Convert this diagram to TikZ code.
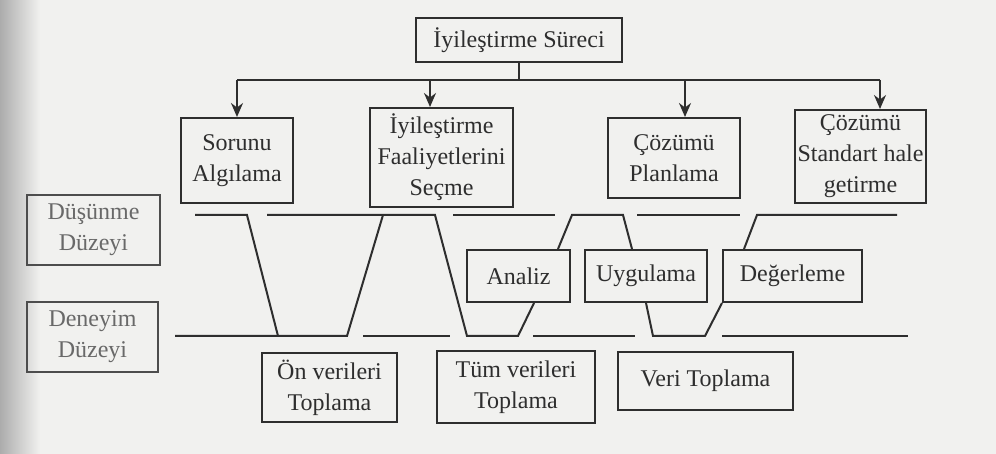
\documentclass[tikz,border=0pt]{standalone}
\usepackage{fontspec}
\setmainfont{Liberation Serif}
\usetikzlibrary{arrows.meta,calc}
\definecolor{ink}{HTML}{2E2E2E}
\definecolor{paper}{HTML}{F1F1EF}

\begin{document}
\begin{tikzpicture}[x=0.5pt, y=-0.5pt, font=\fontsize{12}{15.5}\selectfont,
        box/.style={draw=ink, line width=1pt, text=ink, align=center, inner sep=0pt},
        lvlbox/.style={box, draw=ink!85, text=ink!72},
        level/.style={draw=ink, line width=1pt},
        arr/.style={draw=ink, line width=1pt, -{Stealth[length=7pt,width=6pt]}}]
        \fill[paper] (0,0) rectangle (996,454);
        \shade[left color=gray!65, right color=paper] (0,0) rectangle (40,454);
        \useasboundingbox (0,0) rectangle (996,454);

        \node[box, minimum width=103pt, minimum height=22pt] (top) at (519,40) {İyileştirme Süreci};
        \node[box, minimum width=56pt, minimum height=42.5pt] (s1) at (237,160.5) {Sorunu\\Algılama};
        \node[box, minimum width=71.5pt, minimum height=49.5pt] (s2) at (441.5,157.5) {İyileştirme\\Faaliyetlerini\\Seçme};
        \node[box, minimum width=66pt, minimum height=40pt] (s3) at (674,158) {Çözümü\\Planlama};
        \node[box, minimum width=65.5pt, minimum height=46.5pt] (s4) at (860.5,156.5) {Çözümü\\Standart hale\\getirme};

        \node[lvlbox, minimum width=66.5pt, minimum height=35pt] (dus) at (93.5,230) {Düşünme\\Düzeyi};
        \node[lvlbox, minimum width=65.5pt, minimum height=35pt] (den) at (92.5,337) {Deneyim\\Düzeyi};

        \node[box, minimum width=51.5pt, minimum height=26pt] (analiz) at (518.5,276) {Analiz};
        \node[box, minimum width=61pt, minimum height=26pt] (uyg) at (646,276) {Uygulama};
        \node[box, minimum width=69.5pt, minimum height=26pt] (deg) at (792.5,276) {Değerleme};

        \node[box, minimum width=67.5pt, minimum height=34.5pt] (on) at (329.5,387.5) {Ön verileri\\Toplama};
        \node[box, minimum width=79pt, minimum height=36pt] (tum) at (516,387) {Tüm verileri\\Toplama};
        \node[box, minimum width=87.5pt, minimum height=29pt] (veri) at (705.5,381) {Veri Toplama};

        % dagitim hatti
        \coordinate (b1) at (237,80);
        \coordinate (b2) at (430,80);
        \coordinate (b3) at (685,80);
        \coordinate (b4) at (880,80);
        \draw[level] (top.south) -- (top.south |- b1);
        \draw[level] (b1) -- (b4);
        \draw[arr] (b1) -- (s1.north);
        \draw[arr] (b2) -- (b2 |- s2.north);
        \draw[arr] (b3) -- (b3 |- s3.north);
        \draw[arr] (b4) -- (b4 |- s4.north);

        % duzey cizgileri
        \draw[level] (195,215) -- (247,215) -- (278,336);
        \draw[level] (175,336) -- (347,336) -- (383,215);
        \draw[level] (267,215) -- (435,215) -- (467,336) -- (518,336) -- ($(analiz.south east)+(-37,0)$);
        \draw[level] (363,336) -- (450,336);
        \draw[level] (453,215) -- (555,215);
        \draw[level] ($(analiz.north east)+(-13,0)$) -- (572,215) -- (623,215) -- ($(uyg.north)+(-14,0)$);
        \draw[level] (637,215) -- (740,215);
        \draw[level] ($(deg.north west)+(22,0)$) -- (757,215) -- (897,215);
        \draw[level] (533,336) -- (635,336);
        \draw[level] (uyg.south) -- (653,336) -- (705,336) -- (deg.south west);
        \draw[level] (722,336) -- (908,336);
\end{tikzpicture}
\end{document}
